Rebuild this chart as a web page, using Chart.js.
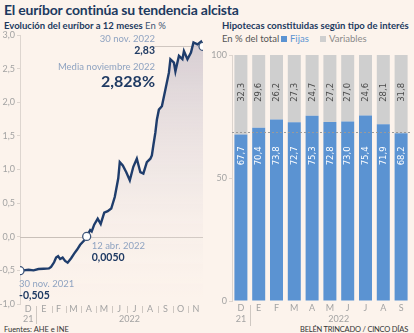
<!DOCTYPE html>
<html><head><meta charset="utf-8">
<script src="https://cdn.jsdelivr.net/npm/chart.js@4/dist/chart.umd.min.js"></script>
<style>
html,body{margin:0;padding:0;}
body{background:#fcf3ec;width:414px;height:333px;overflow:hidden;position:relative;font-family:Lato,sans-serif;}
.t{position:absolute;white-space:nowrap;line-height:1;}
#c1{position:absolute;left:0;top:0;}
#c2{position:absolute;left:210px;top:0;}
.sq{display:inline-block;width:6px;height:6px;margin-right:3px;vertical-align:0px;}
</style></head><body>
<div class="t" style="left:4px;top:3px;font-size:14px;font-weight:700;color:#1d3a5f;letter-spacing:-0.2px">El euríbor continúa su tendencia alcista</div>
<div class="t" style="left:4px;top:21px;font-size:9.5px;color:#1d3a5f"><b>Evolución del euríbor a 12 meses</b> <span style="color:#3f5675">En %</span></div>
<div class="t" style="left:222px;top:21px;font-size:9.5px;font-weight:700;color:#1d3a5f">Hipotecas constituidas según tipo de interés</div>
<div class="t" style="left:222px;top:34px;font-size:9.5px;color:#555">En % del total</div>
<div class="t" style="left:281px;top:34px;font-size:9.5px;color:#5b93d2"><span class="sq" style="background:#5b93d2"></span>Fijas</div>
<div class="t" style="left:320px;top:34px;font-size:9.5px;color:#8a8a8a"><span class="sq" style="background:#cfcfcf"></span>Variables</div>
<div class="t" style="left:4px;top:326px;font-size:7.5px;color:#333">Fuentes: AHE e INE</div>
<div class="t" style="right:6px;top:326px;font-size:7.5px;color:#333;letter-spacing:-0.2px">BELÉN TRINCADO / CINCO DÍAS</div>
<canvas id="c1" width="210" height="333"></canvas>
<canvas id="c2" width="204" height="333"></canvas>
<script>
// ---------- Left chart data: 12-month Euribor (%) ----------
const euriborDates = ['2021-11-30','2021-12-07','2021-12-17','2021-12-27','2022-01-06','2022-01-16','2022-01-27','2022-01-31','2022-02-06','2022-02-10','2022-02-14','2022-02-18','2022-02-23','2022-02-28','2022-03-05','2022-03-12','2022-03-18','2022-03-24','2022-03-30','2022-04-05','2022-04-09','2022-04-12','2022-04-16','2022-04-19','2022-04-22','2022-04-27','2022-05-04','2022-05-10','2022-05-17','2022-05-24','2022-05-31','2022-06-07','2022-06-14','2022-06-17','2022-06-23','2022-06-30','2022-07-07','2022-07-14','2022-07-21','2022-07-28','2022-08-03','2022-08-10','2022-08-17','2022-08-20','2022-08-23','2022-08-27','2022-08-30','2022-09-03','2022-09-09','2022-09-16','2022-09-23','2022-09-26','2022-10-03','2022-10-06','2022-10-13','2022-10-20','2022-10-23','2022-10-30','2022-11-06','2022-11-11','2022-11-19','2022-11-26','2022-11-30'];
const euriborValues = [-0.505,-0.50,-0.49,-0.50,-0.48,-0.475,-0.47,-0.45,-0.38,-0.31,-0.29,-0.33,-0.31,-0.36,-0.385,-0.32,-0.25,-0.19,-0.12,-0.07,-0.04,0.005,0.06,0.10,0.08,0.18,0.27,0.19,0.36,0.38,0.42,0.59,0.87,1.11,1.06,0.96,0.84,1.04,1.16,0.96,0.94,1.11,1.16,1.21,1.36,1.55,1.74,1.89,1.94,2.19,2.44,2.64,2.59,2.46,2.69,2.64,2.76,2.64,2.74,2.89,2.86,2.90,2.83];
const highlightDates = ['2021-11-30','2022-04-12','2022-11-30'];
const monthLetters = ['D','E','F','M','A','M','J','J','A','S','O','N'];
const euriborTicks = [-1,-0.5,0,0.5,1,1.5,2,2.5,3];

// ---------- Right chart data: mortgages by rate type (% of total) ----------
const mortMonths = ['D','E','F','M','A','M','J','J','A','S'];
const fijas = [67.7,70.4,73.8,72.7,75.3,72.8,73.0,75.4,71.9,68.2];
const variables = [32.3,29.6,26.2,27.3,24.7,27.2,27.0,24.6,28.1,31.8];
const mortRef = [68.5];

Chart.defaults.font.family = 'Lato, sans-serif';
const NAVY = '#1f3a63', ANN = '#8fa3c1', AX = '#a3a3a3';

const base = Date.UTC(2021,10,30);
const dayOf = s => { const [y,m,d] = s.split('-').map(Number); return (Date.UTC(y,m-1,d)-base)/864e5; };
const pts = euriborDates.map((d,i)=>({x:dayOf(d), y:euriborValues[i]}));
const hiIdx = highlightDates.map(d=>euriborDates.indexOf(d));
// month boundaries and midpoints Dec 2021 .. Nov 2022
const mStarts = [], mMids = [];
for (let k=0;k<12;k++){
  const s = (Date.UTC(2021,11+k,1)-base)/864e5, e = (Date.UTC(2021,12+k,1)-base)/864e5;
  mStarts.push(s); mMids.push((s+e)/2);
}
const fmt = (v,d) => v.toFixed(d).replace('.',',');

const leftDeco = {
  id:'leftDeco',
  beforeDatasetsDraw(chart){
    const {ctx, scales:{x,y}, chartArea:a} = chart;
    ctx.save();
    ctx.strokeStyle = '#c9c0b9'; ctx.lineWidth = 1;
    const y0 = Math.round(y.getPixelForValue(0))+0.5;
    ctx.beginPath(); ctx.moveTo(a.left,y0); ctx.lineTo(a.right,y0); ctx.stroke();
    const last = pts[pts.length-1];
    const yl = Math.round(y.getPixelForValue(last.y))+0.5;
    ctx.strokeStyle = '#cfc6c0';
    ctx.beginPath(); ctx.moveTo(x.getPixelForValue(268),yl); ctx.lineTo(x.getPixelForValue(last.x),yl); ctx.stroke();
    ctx.restore();
  },
  afterDraw(chart){
    const {ctx, scales:{x,y}, chartArea:a} = chart;
    ctx.save();
    // month separators
    ctx.strokeStyle = '#cfc8c2'; ctx.lineWidth = 1;
    mStarts.forEach((s,i)=>{ if(i===0) return;
      const px = Math.round(x.getPixelForValue(s))+0.5;
      ctx.beginPath(); ctx.moveTo(px,a.bottom+2); ctx.lineTo(px, i===1 ? a.bottom+20 : a.bottom+9); ctx.stroke();
    });
    ctx.fillStyle = AX; ctx.font = '9px Lato'; ctx.textAlign='center'; ctx.textBaseline='middle';
    ctx.fillText('21', x.getPixelForValue(mMids[0]), a.bottom+15);
    ctx.fillText('2022', x.getPixelForValue(mMids[7]-10), a.bottom+15);
    // annotations
    const p0 = pts[hiIdx[0]], p1 = pts[hiIdx[1]], p2 = pts[hiIdx[2]];
    const rx = x.getPixelForValue(p2.x) - 48;
    ctx.textAlign='right';
    ctx.fillStyle = ANN; ctx.font = '9.5px Lato';
    ctx.fillText('30 nov. 2022', rx, 38.5);
    ctx.fillStyle = NAVY; ctx.font = 'bold 10.5px Lato';
    ctx.fillText(fmt(p2.y,2), rx, 51);
    ctx.fillStyle = ANN; ctx.font = '9.5px Lato';
    ctx.fillText('Media noviembre 2022', rx, 66.5);
    ctx.fillStyle = NAVY; ctx.font = 'bold 16px Lato';
    ctx.fillText('2,828%', rx, 81.5);
    ctx.textAlign='left';
    const ax1 = x.getPixelForValue(p1.x)+5;
    ctx.fillStyle = ANN; ctx.font = '9.5px Lato';
    ctx.fillText('12 abr. 2022', ax1, 245.5);
    ctx.fillStyle = NAVY; ctx.font = 'bold 10.5px Lato';
    ctx.fillText(fmt(p1.y,4), ax1, 257.5);
    const ax0 = x.getPixelForValue(p0.x)-1;
    ctx.fillStyle = ANN; ctx.font = '9.5px Lato';
    ctx.fillText('30 nov. 2021', ax0, 283.5);
    ctx.fillStyle = NAVY; ctx.font = 'bold 10.5px Lato';
    ctx.fillText(fmt(p0.y,3), ax0, 295.5);
    ctx.restore();
  }
};

new Chart(document.getElementById('c1'), {
  type:'line',
  data:{datasets:[{
    data: pts,
    borderColor:'#1f3d6c', borderWidth:2.4, tension:0,
    fill:'start',
    backgroundColor:(c)=>{const ch=c.chart, a=ch.chartArea; if(!a) return 'rgba(0,0,0,0)';
      const g=ch.ctx.createLinearGradient(0,a.top,0,a.bottom);
      g.addColorStop(0,'rgba(205,196,204,0.85)'); g.addColorStop(0.55,'rgba(230,222,224,0.45)'); g.addColorStop(1,'rgba(252,243,236,0)'); return g;},
    pointRadius: pts.map((p,i)=>hiIdx.includes(i)?4:0),
    pointHoverRadius:0,
    pointBackgroundColor:'#ffffff', pointBorderColor:'#3d5478', pointBorderWidth:1.3
  }]},
  options:{
    responsive:false, animation:false, devicePixelRatio:1,
    layout:{padding:{top:35,right:7,left:0,bottom:0}},
    plugins:{legend:{display:false}, tooltip:{enabled:false}},
    scales:{
      x:{type:'linear', min:0, max:pts[pts.length-1].x,
        afterFit:s=>{s.height=29;},
        afterBuildTicks:s=>{s.ticks = mMids.map(v=>({value:v}));},
        grid:{display:true, drawOnChartArea:false, drawTicks:false},
        border:{display:false},
        ticks:{autoSkip:false, maxRotation:0, padding:0, color:AX, font:{size:9},
          callback:(v,i)=>monthLetters[i]}
      },
      y:{min:euriborTicks[0], max:euriborTicks[euriborTicks.length-1],
        afterFit:s=>{s.width=20;},
        afterBuildTicks:s=>{s.ticks = euriborTicks.map(v=>({value:v}));},
        grid:{display:true, drawOnChartArea:false, tickLength:3, color:'#ddd5cf'},
        border:{color:'#ddd5cf'},
        ticks:{padding:2, color:AX, font:{size:9}, callback:v=>fmt(v,1)}
      }
    }
  },
  plugins:[leftDeco]
});

const rightDeco = {
  id:'rightDeco',
  afterDatasetsDraw(chart){
    const {ctx, scales:{x,y}, chartArea:a} = chart;
    ctx.save();
    // reference dashed line
    const yr = Math.round(y.getPixelForValue(mortRef[0]))+0.5;
    ctx.strokeStyle='#9a9a9a'; ctx.lineWidth=1; ctx.setLineDash([2,2]);
    ctx.beginPath(); ctx.moveTo(a.left,yr); ctx.lineTo(a.right,yr); ctx.stroke();
    ctx.setLineDash([]);
    // bar labels
    ctx.font = '8.5px "DejaVu Sans"'; ctx.textAlign='center'; ctx.textBaseline='middle';
    mortMonths.forEach((m,i)=>{
      const px = x.getPixelForValue(i);
      ctx.save(); ctx.translate(px, y.getPixelForValue(59)); ctx.rotate(-Math.PI/2);
      ctx.fillStyle='#ffffff'; ctx.fillText(fmt(fijas[i],1),0,0.5); ctx.restore();
      ctx.save(); ctx.translate(px, y.getPixelForValue(84.8)); ctx.rotate(-Math.PI/2);
      ctx.fillStyle='#4a4a4a'; ctx.fillText(fmt(variables[i],1),0,0.5); ctx.restore();
    });
    // separator and year labels
    const sx = Math.round((x.getPixelForValue(0)+x.getPixelForValue(1))/2)+0.5;
    ctx.strokeStyle='#cfc8c2';
    ctx.beginPath(); ctx.moveTo(sx,a.bottom+4); ctx.lineTo(sx,a.bottom+25); ctx.stroke();
    ctx.fillStyle=AX; ctx.font='9px Lato';
    ctx.fillText('21', x.getPixelForValue(0), a.bottom+18);
    ctx.fillText('2022', (x.getPixelForValue(5)+x.getPixelForValue(6))/2, a.bottom+18);
    ctx.restore();
  }
};

new Chart(document.getElementById('c2'), {
  type:'bar',
  data:{labels:mortMonths, datasets:[
    {label:'Fijas', data:fijas, backgroundColor:'#5b93d2', barPercentage:0.73, categoryPercentage:1},
    {label:'Variables', data:variables, backgroundColor:'#cfcfcf', barPercentage:0.73, categoryPercentage:1}
  ]},
  options:{
    responsive:false, animation:false, devicePixelRatio:1,
    layout:{padding:{top:55,right:4,left:0,bottom:0}},
    plugins:{legend:{display:false}, tooltip:{enabled:false}},
    scales:{
      x:{stacked:true, afterFit:s=>{s.height=32;},
        grid:{display:true, drawOnChartArea:false, drawTicks:false},
        border:{display:false},
        ticks:{padding:2, color:AX, font:{size:9}, maxRotation:0}
      },
      y:{stacked:true, min:0, max:100,
        afterFit:s=>{s.width=22;},
        grid:{display:true, drawOnChartArea:false, tickLength:3, color:'#ddd5cf'},
        border:{color:'#ddd5cf'},
        ticks:{stepSize:50, padding:2, color:AX, font:{size:9}}
      }
    }
  },
  plugins:[rightDeco]
});
</script>
</body></html>
